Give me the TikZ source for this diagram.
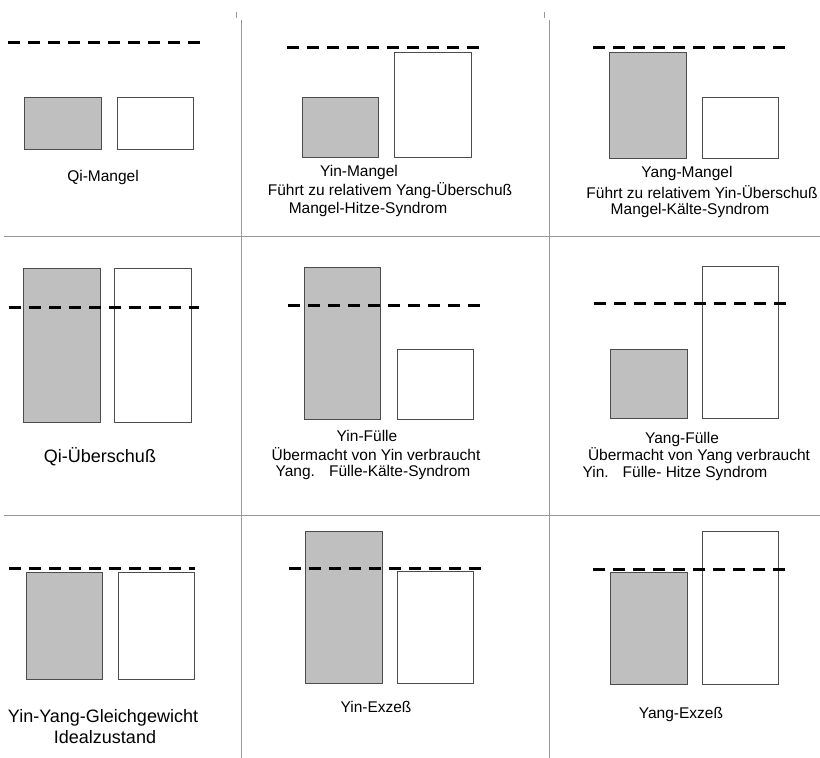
\documentclass[tikz,border=0pt]{standalone}
\usepackage{fontspec}
\setmainfont{Liberation Sans}
\usetikzlibrary{positioning}

\begin{document}
\begin{tikzpicture}[x=1pt,y=-1pt,
        grid/.style={draw=black!40,line width=0.8pt},
        yin/.style={draw=black!70,fill=black!25,line width=0.9pt},
        yang/.style={draw=black!70,fill=white,line width=0.9pt},
        level/.style={draw=black,line width=3pt,dash pattern=on 12pt off 8pt},
        txt/.style={font=\fontsize{15.5}{18}\selectfont,inner sep=0pt},
        bigtxt/.style={font=\fontsize{18}{19}\selectfont,inner sep=0pt}]

        \useasboundingbox (0,0) rectangle (820,758);

        % grid
        \draw[grid] (241,20) -- (241,758);
        \draw[grid] (549,20) -- (549,758);
        \draw[grid] (4,236) -- (820,236);
        \draw[grid] (4,515) -- (820,515);
        \draw[grid] (236,12) -- (236,18);
        \draw[grid] (544,12) -- (544,18);

        % row 1
        \draw[yin]  (24,97)  rectangle (101,149);
        \draw[yang] (117,97) rectangle (193,149);
        \draw[level] (8,42) -- (202,42);
        \node[txt]  (qimangel)   at (103,177) {Qi-Mangel};

        \draw[yin]  (302,97) rectangle (378,157);
        \draw[yang] (394,52) rectangle (471,157);
        \draw[level] (287,47) -- (480,47);
        \node[txt]  (yinmangel)  at (359,172) {Yin-Mangel};
        \node[txt]  (yinmangelb) at (390,191) {Führt zu relativem Yang-Überschuß};
        \node[txt]  (yinmangelc) at (368,209) {Mangel-Hitze-Syndrom};

        \draw[yin]  (609,52) rectangle (686,158);
        \draw[yang] (702,97) rectangle (778,158);
        \draw[level] (593,47) -- (787,47);
        \node[txt]  (yangmangel)  at (687,173) {Yang-Mangel};
        \node[txt]  (yangmangelb) at (702,192) {Führt zu relativem Yin-Überschuß};
        \node[txt]  (yangmangelc) at (690,210) {Mangel-Kälte-Syndrom};

        % row 2
        \draw[yin]  (23,268)  rectangle (100,422);
        \draw[yang] (114,268) rectangle (191,422);
        \draw[level] (9,307) -- (199,307);
        \node[bigtxt] (qiueber)  at (100,457) {Qi-Überschuß};

        \draw[yin]  (304,267) rectangle (380,419);
        \draw[yang] (397,349) rectangle (473,419);
        \draw[level] (288,305) -- (482,305);
        \node[txt]  (yinfuelle)  at (367,436) {Yin-Fülle};
        \node[txt]  (yinfuelleb) at (376,454) {Übermacht von Yin verbraucht};
        \node[txt]  (yinfuellec) at (373,472) {Yang.\hspace{14pt}Fülle-Kälte-Syndrom};

        \draw[yin]  (610,349) rectangle (687,418);
        \draw[yang] (702,266) rectangle (778,418);
        \draw[level] (594,303) -- (787,303);
        \node[txt]  (yangfuelle)  at (682,439) {Yang-Fülle};
        \node[txt]  (yangfuelleb) at (699,456) {Übermacht von Yang verbraucht};
        \node[txt]  (yangfuellec) at (675,473) {Yin.\hspace{14pt}Fülle- Hitze Syndrom};

        % row 3
        \draw[yin]  (26,572)  rectangle (102,679);
        \draw[yang] (118,572) rectangle (194,679);
        \draw[level] (9,568) -- (195,568);
        \node[bigtxt] (balance)   at (103,718) {Yin-Yang-Gleichgewicht};
        \node[bigtxt] (balanceb)  at (105,737) {Idealzustand};

        \draw[yin]  (305,531) rectangle (382,683);
        \draw[yang] (397,571) rectangle (473,683);
        \draw[level] (289,568) -- (482,568);
        \node[txt]  (yinexzess)  at (376,707) {Yin-Exzeß};

        \draw[yin]  (610,572) rectangle (687,684);
        \draw[yang] (702,531) rectangle (778,684);
        \draw[level] (593,569) -- (787,569);
        \node[txt]  (yangexzess) at (681,714) {Yang-Exzeß};

\end{tikzpicture}
\end{document}
